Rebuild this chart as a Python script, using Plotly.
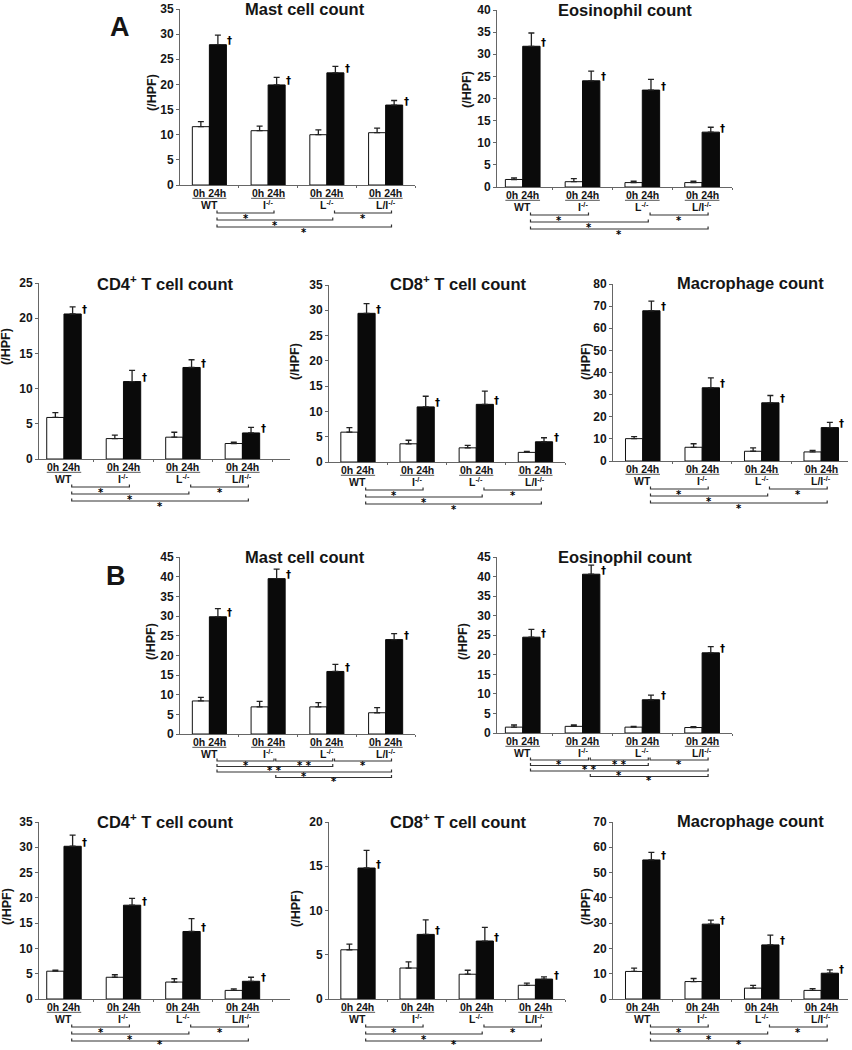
import plotly.graph_objects as go

W, H = 852, 1050
FONT = "Liberation Sans, Arial, sans-serif"
MARKFONT = "DejaVu Sans, Liberation Sans, sans-serif"
TXT = "#151515"
AXC = "#666666"

# ---------------- data ----------------
groups = ["WT", "I<sup>-/-</sup>", "L<sup>-/-</sup>", "L/I<sup>-/-</sup>"]
time_label = "0h 24h"

# Panel A
a_mast_0h = [11.6, 10.8, 10.0, 10.4]
a_mast_0h_err = [1.0, 0.9, 0.95, 0.9]
a_mast_24h = [27.9, 19.9, 22.3, 15.9]
a_mast_24h_err = [1.9, 1.5, 1.3, 0.9]

a_eos_0h = [1.7, 1.2, 1.0, 1.0]
a_eos_0h_err = [0.35, 0.7, 0.3, 0.3]
a_eos_24h = [31.8, 24.0, 21.9, 12.4]
a_eos_24h_err = [3.0, 2.2, 2.4, 1.1]

a_cd4_0h = [5.9, 2.9, 3.1, 2.2]
a_cd4_0h_err = [0.7, 0.5, 0.7, 0.2]
a_cd4_24h = [20.6, 11.0, 13.0, 3.7]
a_cd4_24h_err = [1.0, 1.6, 1.1, 0.8]

a_cd8_0h = [5.9, 3.6, 2.8, 1.9]
a_cd8_0h_err = [0.9, 0.7, 0.5, 0.2]
a_cd8_24h = [29.4, 10.9, 11.4, 4.0]
a_cd8_24h_err = [1.9, 2.1, 2.6, 0.8]

a_mac_0h = [10.1, 6.2, 4.4, 4.1]
a_mac_0h_err = [0.9, 1.6, 1.5, 0.7]
a_mac_24h = [67.9, 33.1, 26.3, 15.1]
a_mac_24h_err = [4.4, 4.5, 3.3, 2.4]

# Panel B
b_mast_0h = [8.4, 6.9, 6.9, 5.4]
b_mast_0h_err = [0.9, 1.4, 1.1, 1.3]
b_mast_24h = [29.8, 39.5, 15.9, 24.0]
b_mast_24h_err = [2.1, 2.4, 1.8, 1.5]

b_eos_0h = [1.5, 1.7, 1.5, 1.4]
b_eos_0h_err = [0.55, 0.35, 0.2, 0.2]
b_eos_24h = [24.5, 40.6, 8.5, 20.5]
b_eos_24h_err = [2.0, 2.3, 1.2, 1.6]

b_cd4_0h = [5.5, 4.3, 3.35, 1.7]
b_cd4_0h_err = [0.2, 0.5, 0.65, 0.3]
b_cd4_24h = [30.2, 18.55, 13.35, 3.5]
b_cd4_24h_err = [2.2, 1.35, 2.55, 0.8]

b_cd8_0h = [5.56, 3.5, 2.8, 1.55]
b_cd8_0h_err = [0.64, 0.7, 0.45, 0.25]
b_cd8_24h = [14.8, 7.3, 6.55, 2.25]
b_cd8_24h_err = [2.0, 1.65, 1.55, 0.25]

b_mac_0h = [10.9, 6.9, 4.3, 3.4]
b_mac_0h_err = [1.3, 1.2, 1.1, 0.7]
b_mac_24h = [55.0, 29.6, 21.4, 10.2]
b_mac_24h_err = [3.0, 1.6, 3.9, 1.3]

# significance brackets: (from group, to group, row, label)
brackets_A = [(0, 1, 0, "*"), (2, 3, 0, "*"), (0, 2, 1, "*"), (0, 3, 2, "*")]
brackets_B = [(0, 1, 0, "*"), (1, 2, 0, "* *"), (2, 3, 0, "*"),
              (0, 2, 1, "* *"), (0, 3, 2, "*"), (1, 3, 3, "*")]

titles = {
    "mast": "Mast cell count",
    "eos": "Eosinophil count",
    "cd4": "CD4<sup>+</sup> T cell count",
    "cd8": "CD8<sup>+</sup> T cell count",
    "mac": "Macrophage count",
}

# ---------------- layout specs (pixels) ----------------
panels = [
    dict(t="mast", v0=a_mast_0h, e0=a_mast_0h_err, v1=a_mast_24h, e1=a_mast_24h_err,
         px=(180, 415), py=(9, 185), ymax=35, dtick=5, xr=(-0.5, 3.5),
         tpos=(305, 9), lpos=(152, 93), br=brackets_A, style="A"),
    dict(t="eos", v0=a_eos_0h, e0=a_eos_0h_err, v1=a_eos_24h, e1=a_eos_24h_err,
         px=(497, 732), py=(10, 187), ymax=40, dtick=5, xr=(-0.43, 3.5),
         tpos=(625, 10), lpos=(467, 90), br=brackets_A, style="A"),
    dict(t="cd4", v0=a_cd4_0h, e0=a_cd4_0h_err, v1=a_cd4_24h, e1=a_cd4_24h_err,
         px=(39, 290), py=(283, 459), ymax=25, dtick=5, xr=(-0.42, 3.8),
         tpos=(165, 283), lpos=(6, 347), br=brackets_A, style="A"),
    dict(t="cd8", v0=a_cd8_0h, e0=a_cd8_0h_err, v1=a_cd8_24h, e1=a_cd8_24h_err,
         px=(329, 565), py=(285, 462), ymax=35, dtick=5, xr=(-0.49, 3.5),
         tpos=(459, 283), lpos=(295, 362), br=brackets_A, style="A"),
    dict(t="mac", v0=a_mac_0h, e0=a_mac_0h_err, v1=a_mac_24h, e1=a_mac_24h_err,
         px=(613, 848), py=(284, 461), ymax=80, dtick=10, xr=(-0.5, 3.45),
         tpos=(750, 283), lpos=(586, 362), br=brackets_A, style="A"),
    dict(t="mast", v0=b_mast_0h, e0=b_mast_0h_err, v1=b_mast_24h, e1=b_mast_24h_err,
         px=(180, 415), py=(557, 734), ymax=45, dtick=5, xr=(-0.5, 3.5),
         tpos=(305, 557), lpos=(151, 642), br=brackets_B, style="B"),
    dict(t="eos", v0=b_eos_0h, e0=b_eos_0h_err, v1=b_eos_24h, e1=b_eos_24h_err,
         px=(497, 732), py=(557, 733), ymax=45, dtick=5, xr=(-0.43, 3.5),
         tpos=(625, 557), lpos=(463, 642), br=brackets_B, style="B"),
    dict(t="cd4", v0=b_cd4_0h, e0=b_cd4_0h_err, v1=b_cd4_24h, e1=b_cd4_24h_err,
         px=(39, 290), py=(822, 999), ymax=35, dtick=5, xr=(-0.42, 3.8),
         tpos=(165, 821), lpos=(7, 907), br=brackets_A, style="A"),
    dict(t="cd8", v0=b_cd8_0h, e0=b_cd8_0h_err, v1=b_cd8_24h, e1=b_cd8_24h_err,
         px=(329, 565), py=(822, 999), ymax=20, dtick=5, xr=(-0.49, 3.5),
         tpos=(459, 821), lpos=(296, 909), br=brackets_A, style="A"),
    dict(t="mac", v0=b_mac_0h, e0=b_mac_0h_err, v1=b_mac_24h, e1=b_mac_24h_err,
         px=(613, 848), py=(822, 999), ymax=70, dtick=10, xr=(-0.5, 3.45),
         tpos=(750, 821), lpos=(586, 907), br=brackets_A, style="A"),
]

row_offsets = {"A": [28, 35, 42], "B": [27, 32.5, 38, 43.5]}
star_gap = {"A": 4.0, "B": 2.6}
STAR_SIZE = 10
STAR_MAX_CENTER = H - 0.6 * STAR_SIZE  # keep the asterisk box inside the page


def fx(p):
    return p / W


def fy(p):
    return 1 - p / H


fig = go.Figure()
layout = dict(
    width=W, height=H, margin=dict(l=0, r=0, t=0, b=0, pad=0),
    paper_bgcolor="white", plot_bgcolor="white", showlegend=False,
    barmode="group", bargap=0.42, bargroupgap=0,
    font=dict(family=FONT, color=TXT),
)
shapes, annotations = [], []

BAR_HALF = 0.29
xs = list(range(len(groups)))

for k, p in enumerate(panels, start=1):
    sfx = "" if k == 1 else str(k)
    xref, yref = "x" + sfx, "y" + sfx
    layout["xaxis" + sfx] = dict(
        domain=[fx(p["px"][0]), fx(p["px"][1])], range=list(p["xr"]), anchor=yref,
        showline=True, linecolor=AXC, linewidth=1, showgrid=False, zeroline=False,
        tickvals=[0.5, 1.5, 2.5, 3.5], ticks="outside", ticklen=2, tickcolor=AXC,
        showticklabels=False, fixedrange=True, automargin=False,
    )
    layout["yaxis" + sfx] = dict(
        domain=[fy(p["py"][1]), fy(p["py"][0])], range=[0, p["ymax"]], anchor=xref,
        tick0=0, dtick=p["dtick"], showline=True, linecolor=AXC, linewidth=1,
        ticks="outside", ticklen=3, tickcolor=AXC, showgrid=False, zeroline=False,
        tickfont=dict(family=FONT, size=12, weight="bold", color=TXT), fixedrange=True,
        automargin=False,
    )
    fig.add_trace(go.Bar(
        x=xs, y=p["v0"], xaxis=xref, yaxis=yref, name="0h",
        marker=dict(color="white", line=dict(color="#111", width=1)),
        error_y=dict(type="data", array=p["e0"], arrayminus=[0] * 4, symmetric=False,
                     width=3, thickness=1.3, color="#222"),
    ))
    fig.add_trace(go.Bar(
        x=xs, y=p["v1"], xaxis=xref, yaxis=yref, name="24h",
        marker=dict(color="#0a0a0a", line=dict(color="#0a0a0a", width=1)),
        error_y=dict(type="data", array=p["e1"], arrayminus=[0] * 4, symmetric=False,
                     width=3, thickness=1.3, color="#222"),
    ))

    zero = p["py"][1]
    # daggers
    for i, v in enumerate(p["v1"]):
        annotations.append(dict(
            x=i + BAR_HALF, y=v, xref=xref, yref=yref, text="†", showarrow=False,
            xanchor="left", yanchor="middle", xshift=-1, yshift=4,
            font=dict(family=MARKFONT, size=10, weight="bold", color="#000"),
        ))
    # group labels
    for i, g in enumerate(groups):
        annotations.append(dict(
            x=i, y=fy(zero + 8), xref=xref, yref="paper", text=time_label,
            showarrow=False, xanchor="center", yanchor="middle",
            font=dict(size=10.5, weight="bold", color=TXT),
        ))
        shapes.append(dict(
            type="line", xref=xref, yref="paper", x0=i - BAR_HALF, x1=i + BAR_HALF,
            y0=fy(zero + 13.3), y1=fy(zero + 13.3), line=dict(color="#555", width=1),
        ))
        annotations.append(dict(
            x=i, y=fy(zero + 19.5), xref=xref, yref="paper", text=g,
            showarrow=False, xanchor="center", yanchor="middle",
            font=dict(size=10.5, weight="bold", color=TXT),
        ))
    # brackets
    offs = row_offsets[p["style"]]
    for (a, b, row, lab) in p["br"]:
        yb = zero + offs[row]
        x0, x1 = a + 0.13, b + 0.1
        shapes.append(dict(
            type="path", xref=xref, yref="paper",
            path=f"M {x0},{fy(yb - 2.5)} L {x0},{fy(yb)} L {x1},{fy(yb)} L {x1},{fy(yb - 2.5)}",
            line=dict(color="#333", width=1.2),
        ))
        ystar = min(yb + star_gap[p["style"]] + 1.5, STAR_MAX_CENTER)
        annotations.append(dict(
            x=(x0 + x1) / 2, y=fy(ystar), xref=xref, yref="paper",
            text=lab, showarrow=False, xanchor="center", yanchor="middle",
            font=dict(family=MARKFONT, size=STAR_SIZE, weight="bold", color="#000"),
        ))
    # title and y label
    annotations.append(dict(
        x=fx(p["tpos"][0]), y=fy(p["tpos"][1]), xref="paper", yref="paper",
        text=titles[p["t"]], showarrow=False, xanchor="center", yanchor="middle",
        font=dict(size=16.5, weight="bold", color=TXT),
    ))
    annotations.append(dict(
        x=fx(p["lpos"][0]), y=fy(p["lpos"][1]), xref="paper", yref="paper",
        text="(/HPF)", textangle=-90, showarrow=False, xanchor="center", yanchor="middle",
        font=dict(size=12.5, weight="bold", color=TXT),
    ))

# panel letters
annotations.append(dict(x=fx(120), y=fy(27), xref="paper", yref="paper", text="A",
                        showarrow=False, xanchor="center", yanchor="middle",
                        font=dict(size=27, weight="bold", color=TXT)))
annotations.append(dict(x=fx(116), y=fy(576), xref="paper", yref="paper", text="B",
                        showarrow=False, xanchor="center", yanchor="middle",
                        font=dict(size=27, weight="bold", color=TXT)))

layout["shapes"] = shapes
layout["annotations"] = annotations
fig.update_layout(**layout)
fig.write_html("out.html", config={"displayModeBar": False},
               post_script="document.body.style.margin='0px';")
